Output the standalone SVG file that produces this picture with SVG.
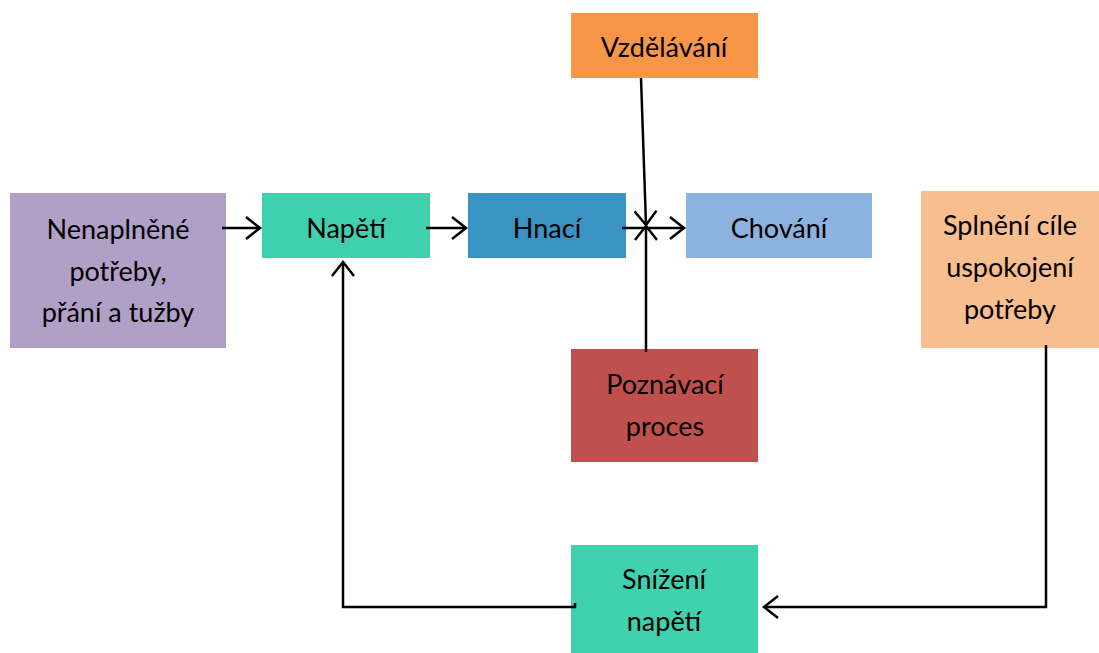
<svg xmlns="http://www.w3.org/2000/svg" width="1099" height="653" viewBox="0 0 1099 653">
<style>
text{font-family:Lato,"Open Sans","Liberation Sans",sans-serif;font-size:27px;fill:#000;text-anchor:middle;dominant-baseline:central}
.c{fill:none;stroke:#000;stroke-width:2.5}
</style>
<defs>
<marker id="a" markerUnits="userSpaceOnUse" markerWidth="22" markerHeight="26" refX="16" refY="13" orient="auto" viewBox="0 0 22 26">
<path d="M2,2 L16,13 L2,24" fill="none" stroke="#000" stroke-width="2.5"/>
</marker>
</defs>
<rect width="1099" height="653" fill="#fff"/>
<g id="n1"><rect x="10" y="193" width="216" height="155" fill="#B09FC6"/><text x="118" y="228">Nenaplněné</text><text x="118" y="270">potřeby,</text><text x="118" y="311">přání a tužby</text></g>
<g id="n2"><rect x="262" y="193" width="168" height="65" fill="#3FD1AE"/><text x="346" y="227">Napětí</text></g>
<g id="n3"><rect x="468" y="193" width="158" height="65" fill="#3A93C2"/><text x="547" y="227">Hnací</text></g>
<g id="n4"><rect x="686" y="193" width="186" height="65" fill="#8DB2E0"/><text x="779" y="227">Chování</text></g>
<g id="n5"><rect x="921" y="191" width="178" height="157" fill="#F8BE8E"/><text x="1010" y="224">Splnění cíle</text><text x="1010" y="266">uspokojení</text><text x="1010" y="308">potřeby</text></g>
<g id="n6"><rect x="571" y="13" width="187" height="65" fill="#F79646"/><text x="664" y="46">Vzdělávání</text></g>
<g id="n7"><rect x="571" y="349" width="187" height="113" fill="#C0504D"/><text x="665" y="383">Poznávací</text><text x="665" y="425">proces</text></g>
<g id="n8"><rect x="571" y="545" width="187" height="108" fill="#3FD1AE"/><text x="664" y="578">Snížení</text><text x="664" y="620">napětí</text></g>
<g id="connectors">
<path class="c" d="M222,228 H260" marker-end="url(#a)"/>
<path class="c" d="M426,228 H466" marker-end="url(#a)"/>
<path class="c" d="M622,228 H684" marker-end="url(#a)"/>
<path class="c" d="M641,78 L646,225" marker-end="url(#a)"/>
<path class="c" d="M646,352 V226" marker-end="url(#a)"/>
<path class="c" d="M1046,345 V607 H764" marker-end="url(#a)"/>
<path class="c" d="M575,603 V607 H343 V262" marker-end="url(#a)"/>
</g>
</svg>
